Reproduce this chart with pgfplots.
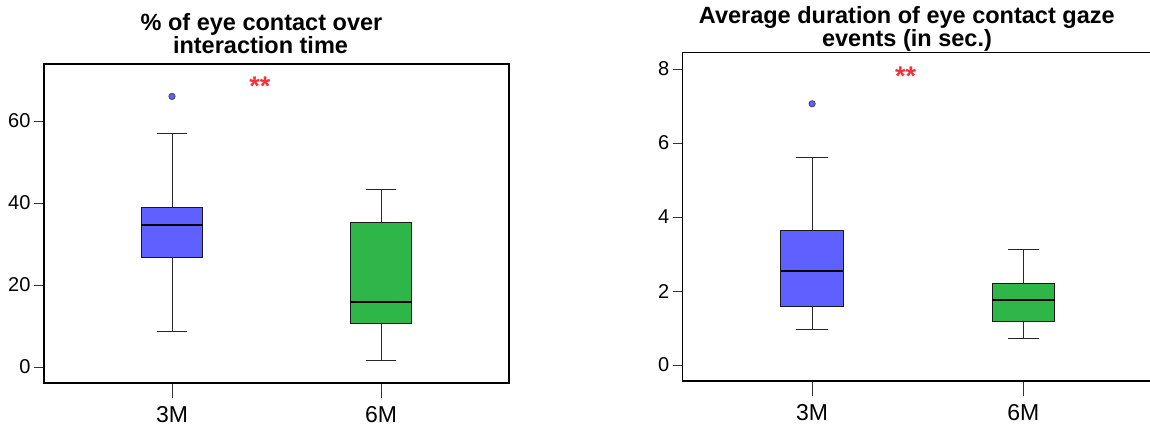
\documentclass[border=0pt]{standalone}
\usepackage{fontspec}
\setmainfont{Liberation Sans}
\usepackage{pgfplots}
\pgfplotsset{compat=1.18}
\usepgfplotslibrary{statistics}
\definecolor{bbox}{RGB}{94,96,255}
\definecolor{gbox}{RGB}{46,183,72}
\definecolor{sred}{RGB}{240,50,60}
\pgfplotsset{
  mybox/.style={
    scale only axis, anchor=south west, clip=false,
    xmin=0.3876, xmax=2.6124,
    xtick={1,2}, xticklabels={3M,6M},
    axis line style={line width=1.3bp},
    tick align=outside, major tick length=10bp,
    tick style={black!80, line width=0.9bp},
    xtick style={/pgfplots/major tick length=15bp},
    xtick pos=lower, ytick pos=left,
    x tick label style={font=\fontsize{23bp}{23bp}\selectfont, yshift=-10bp},
    y tick label style={font=\fontsize{20bp}{20bp}\selectfont},
    /pgf/number format/assume math mode=true,
  },
  bp/.style={
    mark=*, mark size=3.2bp,
    boxplot/draw direction=y,
    boxplot/box extend=0.295, boxplot/whisker extend=0.148,
    boxplot/every box/.style={draw=black!90, fill=#1, line width=1bp},
    boxplot/every median/.style={draw=black, line width=2bp},
    boxplot/every whisker/.style={draw=black!85, line width=0.9bp},
    mark options={fill=#1, draw=black!80, line width=0.6bp},
  },
}
\begin{document}
\begin{tikzpicture}[x=1bp,y=1bp]
\path[use as bounding box] (0,0) rectangle (1150,426);
\begin{axis}[mybox, at={(44bp,43bp)}, width=465bp, height=319bp,
  ymin=-3.9, ymax=73.9, ytick={0,20,40,60}]
\addplot[bp=bbox, boxplot prepared={draw position=1,
  lower whisker=8.6, lower quartile=26.8, median=34.6,
  upper quartile=38.8, upper whisker=57.0}] coordinates {(0,66.0)};
\addplot[bp=gbox, boxplot prepared={draw position=2,
  lower whisker=1.7, lower quartile=10.5, median=15.9,
  upper quartile=35.3, upper whisker=43.4}] coordinates {};
\node[anchor=north, inner sep=0pt, text=sred, font=\bfseries\fontsize{27bp}{27bp}\selectfont] at (axis cs:1.421,70.7) {**};
\end{axis}
\begin{axis}[mybox, at={(682.7bp,45bp)}, width=470.1bp, height=328.3bp,
  ymin=-0.43, ymax=8.44, ytick={0,2,4,6,8}]
\addplot[bp=bbox, boxplot prepared={draw position=1,
  lower whisker=0.96, lower quartile=1.58, median=2.55,
  upper quartile=3.64, upper whisker=5.60}] coordinates {(0,7.06)};
\addplot[bp=gbox, boxplot prepared={draw position=2,
  lower whisker=0.73, lower quartile=1.19, median=1.77,
  upper quartile=2.21, upper whisker=3.13}] coordinates {};
\node[anchor=north, inner sep=0pt, text=sred, font=\bfseries\fontsize{27bp}{27bp}\selectfont] at (axis cs:1.443,8.06) {**};
\end{axis}
\begin{scope}[every node/.style={anchor=base, inner sep=0pt, font=\bfseries\fontsize{23.5bp}{23.5bp}\selectfont}]
\node at (261.5,395.3) {\% of eye contact over};
\node at (260.5,372.7) {interaction time};
\node at (906.8,402) {Average duration of eye contact gaze};
\node at (907,379.3) {events (in sec.)};
\end{scope}
\end{tikzpicture}
\end{document}
